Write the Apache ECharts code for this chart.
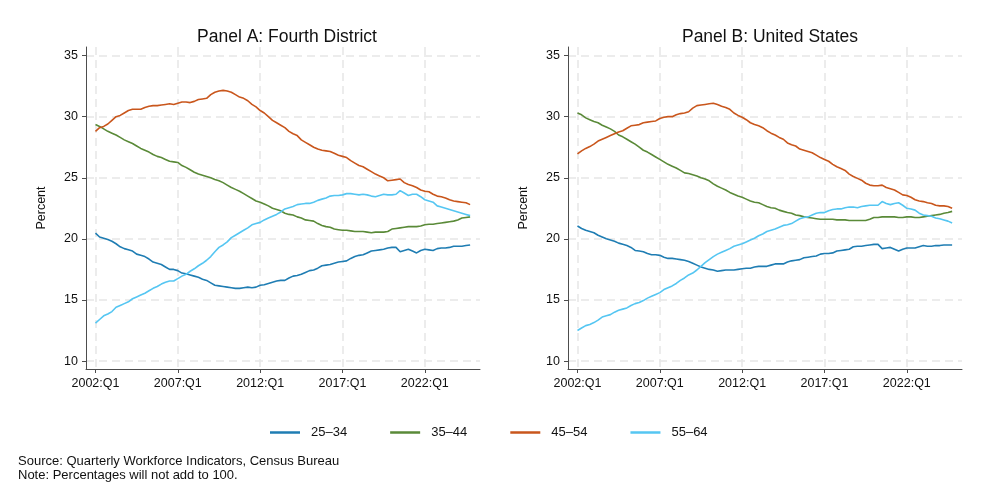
<!DOCTYPE html>
<html>
<head>
<meta charset="utf-8">
<title>Workforce age shares</title>
<script src="https://cdn.jsdelivr.net/npm/echarts@6/dist/echarts.min.js"></script>
<style>
  html, body { margin: 0; padding: 0; background: #fff; }
  #chart { width: 991px; height: 496px; }
</style>
</head>
<body>
<div id="chart"></div>
<script>
// quarterly shares, 2002:Q1 .. 2024:Q4 (index 0 = 2002:Q1)
const startYear = 2002
const tickQuarters = [0, 20, 40, 60, 80]
const yTicks = [10, 15, 20, 25, 30, 35]
const seriesNames = ['25–34', '35–44', '45–54', '55–64']
const colors = ['#1f7db3', '#5a8a38', '#c9561c', '#55c6f2']

// Panel A: Fourth District
const fd2534 = [20.47, 20.15, 20.05, 19.95, 19.8, 19.6, 19.35, 19.2, 19.1, 19.0, 18.75, 18.65, 18.55, 18.35, 18.1, 18.0, 17.9, 17.7, 17.5, 17.5,
  17.4, 17.2, 17.15, 17.05, 16.95, 16.85, 16.7, 16.6, 16.4, 16.2, 16.15, 16.1, 16.05, 16.0, 15.95, 15.95, 16.0, 16.05, 16.0, 16.05,
  16.2, 16.25, 16.35, 16.45, 16.55, 16.6, 16.6, 16.8, 16.95, 17.0, 17.1, 17.25, 17.4, 17.45, 17.6, 17.8, 17.85, 17.9, 18.0, 18.1,
  18.15, 18.2, 18.4, 18.55, 18.65, 18.7, 18.85, 19.0, 19.05, 19.1, 19.15, 19.25, 19.3, 19.3, 18.95, 19.05, 19.15, 19.0, 18.85, 19.05,
  19.15, 19.1, 19.05, 19.2, 19.25, 19.25, 19.3, 19.4, 19.4, 19.4, 19.45, 19.5]
const fd3544 = [29.35, 29.2, 29.0, 28.8, 28.65, 28.5, 28.3, 28.1, 27.95, 27.8, 27.6, 27.4, 27.25, 27.1, 26.9, 26.75, 26.65, 26.5, 26.35, 26.3,
  26.25, 26.0, 25.85, 25.65, 25.45, 25.3, 25.2, 25.1, 25.0, 24.85, 24.75, 24.6, 24.4, 24.2, 24.05, 23.9, 23.7, 23.5, 23.3, 23.1,
  23.0, 22.85, 22.7, 22.5, 22.4, 22.3, 22.1, 22.0, 21.95, 21.8, 21.7, 21.55, 21.5, 21.45, 21.25, 21.1, 21.0, 20.95, 20.8, 20.75,
  20.7, 20.7, 20.65, 20.6, 20.6, 20.6, 20.55, 20.5, 20.55, 20.55, 20.55, 20.6, 20.8, 20.85, 20.9, 20.95, 21.0, 21.0, 21.0, 21.05,
  21.15, 21.2, 21.2, 21.25, 21.3, 21.35, 21.4, 21.45, 21.55, 21.7, 21.75, 21.8]
const fd4554 = [28.8, 29.1, 29.2, 29.4, 29.7, 30.0, 30.1, 30.3, 30.5, 30.6, 30.6, 30.6, 30.75, 30.85, 30.9, 30.9, 30.95, 31.0, 31.05, 31.0,
  31.1, 31.2, 31.2, 31.15, 31.25, 31.4, 31.45, 31.5, 31.8, 32.0, 32.1, 32.15, 32.1, 32.0, 31.8, 31.6, 31.5, 31.3, 31.0, 30.8,
  30.5, 30.3, 30.0, 29.7, 29.5, 29.3, 29.1, 28.8, 28.6, 28.45, 28.1, 27.9, 27.7, 27.5, 27.35, 27.25, 27.2, 27.15, 27.0, 26.85,
  26.75, 26.65, 26.4, 26.2, 26.0, 25.9, 25.7, 25.5, 25.3, 25.15, 25.0, 24.75, 24.8, 24.85, 24.9, 24.6, 24.45, 24.35, 24.2, 24.0,
  23.9, 23.85, 23.65, 23.5, 23.45, 23.35, 23.2, 23.1, 23.05, 23.0, 22.95, 22.8]
const fd5564 = [13.1, 13.4, 13.7, 13.85, 14.05, 14.4, 14.55, 14.7, 14.85, 15.1, 15.25, 15.4, 15.55, 15.75, 15.95, 16.1, 16.3, 16.45, 16.55, 16.55,
  16.75, 16.95, 17.1, 17.35, 17.55, 17.8, 18.0, 18.25, 18.55, 18.95, 19.3, 19.5, 19.75, 20.1, 20.3, 20.5, 20.7, 20.9, 21.15, 21.25,
  21.35, 21.55, 21.7, 21.85, 22.0, 22.2, 22.45, 22.55, 22.65, 22.8, 22.85, 22.9, 22.9, 23.0, 23.15, 23.25, 23.35, 23.5, 23.55, 23.55,
  23.6, 23.7, 23.7, 23.65, 23.6, 23.65, 23.6, 23.5, 23.45, 23.55, 23.65, 23.6, 23.6, 23.65, 23.95, 23.75, 23.55, 23.65, 23.65, 23.45,
  23.2, 23.1, 23.0, 22.7, 22.6, 22.5, 22.4, 22.3, 22.2, 22.1, 22.0, 21.9]

// Panel B: United States
const us2534 = [21.05, 20.85, 20.7, 20.6, 20.5, 20.3, 20.15, 20.0, 19.9, 19.8, 19.65, 19.55, 19.45, 19.3, 19.05, 19.0, 18.95, 18.8, 18.7, 18.7,
  18.65, 18.5, 18.4, 18.4, 18.35, 18.3, 18.25, 18.15, 18.0, 17.85, 17.7, 17.6, 17.5, 17.45, 17.35, 17.4, 17.45, 17.45, 17.45, 17.5,
  17.55, 17.6, 17.6, 17.7, 17.75, 17.75, 17.75, 17.85, 17.95, 17.95, 17.95, 18.1, 18.2, 18.25, 18.3, 18.45, 18.5, 18.55, 18.6, 18.75,
  18.8, 18.8, 18.85, 19.0, 19.05, 19.1, 19.15, 19.35, 19.4, 19.4, 19.45, 19.5, 19.55, 19.55, 19.2, 19.25, 19.3, 19.15, 19.0, 19.15,
  19.25, 19.25, 19.25, 19.35, 19.45, 19.4, 19.4, 19.45, 19.45, 19.5, 19.5, 19.5]
const us3544 = [30.3, 30.15, 29.9, 29.75, 29.6, 29.5, 29.3, 29.15, 29.0, 28.8, 28.5, 28.35, 28.15, 27.95, 27.75, 27.5, 27.25, 27.1, 26.9, 26.7,
  26.5, 26.3, 26.1, 25.95, 25.8, 25.6, 25.4, 25.35, 25.25, 25.15, 25.0, 24.9, 24.75, 24.5, 24.3, 24.15, 24.0, 23.8, 23.65, 23.5,
  23.4, 23.25, 23.1, 23.0, 22.95, 22.8, 22.65, 22.55, 22.5, 22.35, 22.25, 22.15, 22.1, 21.95, 21.9, 21.8, 21.75, 21.7, 21.65, 21.6,
  21.6, 21.6, 21.6, 21.55, 21.55, 21.55, 21.5, 21.5, 21.5, 21.5, 21.5, 21.6, 21.75, 21.75, 21.8, 21.8, 21.8, 21.8, 21.75, 21.75,
  21.8, 21.8, 21.75, 21.75, 21.8, 21.85, 21.9, 21.95, 22.0, 22.1, 22.15, 22.25]
const us4554 = [26.95, 27.2, 27.4, 27.55, 27.75, 28.0, 28.15, 28.3, 28.45, 28.6, 28.75, 28.85, 29.05, 29.25, 29.3, 29.35, 29.5, 29.55, 29.6, 29.65,
  29.85, 29.95, 30.0, 30.0, 30.15, 30.25, 30.3, 30.4, 30.7, 30.9, 30.95, 31.0, 31.05, 31.1, 31.0, 30.85, 30.75, 30.6, 30.3, 30.1,
  29.95, 29.75, 29.5, 29.35, 29.25, 29.1, 28.85, 28.65, 28.5, 28.3, 28.15, 27.85, 27.7, 27.6, 27.35, 27.25, 27.15, 27.05, 26.85, 26.65,
  26.5, 26.35, 26.1, 25.9, 25.75, 25.6, 25.3, 25.1, 24.95, 24.8, 24.55, 24.4, 24.35, 24.35, 24.4, 24.2, 24.1, 24.0, 23.8, 23.6,
  23.55, 23.4, 23.2, 23.1, 23.05, 22.95, 22.9, 22.75, 22.7, 22.7, 22.65, 22.5]
const us5564 = [12.5, 12.7, 12.9, 13.0, 13.15, 13.35, 13.6, 13.7, 13.8, 14.0, 14.15, 14.25, 14.35, 14.55, 14.7, 14.8, 14.95, 15.15, 15.3, 15.45,
  15.6, 15.85, 16.0, 16.15, 16.35, 16.6, 16.8, 17.05, 17.2, 17.45, 17.75, 18.05, 18.3, 18.55, 18.75, 18.9, 19.05, 19.2, 19.4, 19.5,
  19.6, 19.75, 19.9, 20.05, 20.25, 20.4, 20.6, 20.7, 20.8, 20.95, 21.1, 21.15, 21.25, 21.45, 21.65, 21.75, 21.8, 21.95, 22.1, 22.15,
  22.15, 22.3, 22.4, 22.45, 22.45, 22.55, 22.6, 22.6, 22.55, 22.65, 22.7, 22.75, 22.75, 22.75, 23.05, 22.9, 22.8, 22.9, 22.95, 22.75,
  22.5, 22.45, 22.35, 22.1, 21.95, 21.9, 21.85, 21.7, 21.65, 21.55, 21.45, 21.3]

const font = 'Liberation Sans, Arial, sans-serif'
const toPairs = arr => arr.map((v, i) => [i, v])

function xAxisFor (gridIndex) {
  return {
    type: 'value',
    gridIndex: gridIndex,
    min: -2.3,
    max: 93.4,
    axisLine: { show: true, onZero: false, lineStyle: { color: '#4d4d4d', width: 1 } },
    axisTick: { show: true, length: 4, customValues: tickQuarters, lineStyle: { color: '#4d4d4d' } },
    axisLabel: {
      customValues: tickQuarters,
      color: '#111',
      fontSize: 12.5,
      fontFamily: font,
      margin: 8,
      formatter: v => (startYear + Math.round(v / 4)) + ':Q1'
    },
    splitLine: { show: true, lineStyle: { color: '#e6e6e6', width: 1.5, type: [8, 5] } }
  }
}

function yAxisFor (gridIndex) {
  return {
    type: 'value',
    gridIndex: gridIndex,
    min: 9.35,
    max: 35.7,
    name: 'Percent',
    nameLocation: 'middle',
    nameGap: 38,
    nameTextStyle: { color: '#111', fontSize: 12.5, fontFamily: font },
    axisLine: { show: true, onZero: false, lineStyle: { color: '#4d4d4d', width: 1 } },
    axisTick: { show: true, length: 4, customValues: yTicks, lineStyle: { color: '#4d4d4d' } },
    axisLabel: { customValues: yTicks, color: '#111', fontSize: 12.5, fontFamily: font, margin: 8 },
    splitLine: { show: true, lineStyle: { color: '#e6e6e6', width: 1.5, type: [8, 5] } }
  }
}

function lineSeries (name, data, idx, color) {
  return {
    name: name,
    type: 'line',
    xAxisIndex: idx,
    yAxisIndex: idx,
    data: toPairs(data),
    symbol: 'none',
    smooth: false,
    lineStyle: { color: color, width: 1.6 },
    itemStyle: { color: color },
    emphasis: { disabled: true }
  }
}

const panelA = [fd2534, fd3544, fd4554, fd5564]
const panelB = [us2534, us3544, us4554, us5564]

const series = []
panelA.forEach((d, i) => series.push(lineSeries(seriesNames[i], d, 0, colors[i])))
panelB.forEach((d, i) => series.push(lineSeries(seriesNames[i], d, 1, colors[i])))

const options = {
  backgroundColor: '#fff',
  animation: false,
  title: [
    { text: 'Panel A: Fourth District', left: 282, top: 23, textAlign: 'center',
      textStyle: { fontSize: 17.5, fontWeight: 'normal', color: '#111', fontFamily: font } },
    { text: 'Panel B: United States', left: 765, top: 23, textAlign: 'center',
      textStyle: { fontSize: 17.5, fontWeight: 'normal', color: '#111', fontFamily: font } }
  ],
  grid: [
    { left: 86, top: 47, width: 394, height: 322, outerBoundsMode: 'none' },
    { left: 568, top: 47, width: 394, height: 322, outerBoundsMode: 'none' }
  ],
  xAxis: [xAxisFor(0), xAxisFor(1)],
  yAxis: [yAxisFor(0), yAxisFor(1)],
  legend: {
    data: seriesNames,
    left: 270,
    top: 426,
    padding: 0,
    orient: 'horizontal',
    icon: 'rect',
    itemWidth: 30,
    itemHeight: 2.5,
    itemGap: 43,
    selectedMode: false,
    textStyle: { color: '#111', fontSize: 13, fontFamily: font, padding: [0, 0, 0, 6] }
  },
  graphic: [
    { type: 'text', left: 18, top: 455,
      style: { text: 'Source: Quarterly Workforce Indicators, Census Bureau', fill: '#111', font: '13px ' + font } },
    { type: 'text', left: 18, top: 469,
      style: { text: 'Note: Percentages will not add to 100.', fill: '#111', font: '13px ' + font } }
  ],
  series: series
}

const chart = echarts.init(document.getElementById('chart'), null, { renderer: 'canvas' })
chart.setOption(options)
</script>
</body>
</html>
